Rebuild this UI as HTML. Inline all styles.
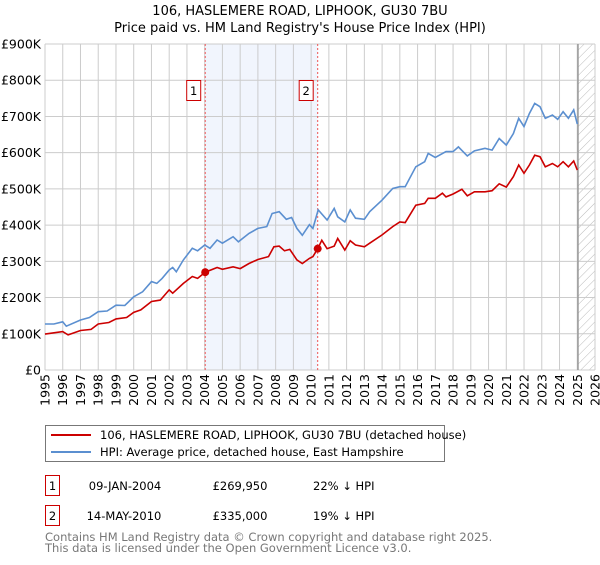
<!DOCTYPE html>
<html><head><meta charset="utf-8"><style>
body{margin:0;background:#fff;font-family:"Liberation Sans","DejaVu Sans",sans-serif;}
svg text{font-family:"DejaVu Sans","Liberation Sans",sans-serif;}
</style></head><body>
<svg id="c" width="600" height="560" viewBox="0 0 600 560" xmlns="http://www.w3.org/2000/svg">
<defs><pattern id="hatch" width="6" height="6" patternUnits="userSpaceOnUse" patternTransform="rotate(45)"><line x1="0" y1="0" x2="0" y2="6" stroke="#bbb" stroke-width="1"/></pattern></defs>
<text x="300" y="15" text-anchor="middle" font-size="13">106, HASLEMERE ROAD, LIPHOOK, GU30 7BU</text>
<text x="300" y="32" text-anchor="middle" font-size="13">Price paid vs. HM Land Registry's House Price Index (HPI)</text>
<g id="plot"></g>
<g>
<rect x="45.5" y="425.5" width="399" height="36" fill="#fff" stroke="#777"/>
<line x1="51" y1="435" x2="91" y2="435" stroke="#cc0000" stroke-width="2"/>
<text x="100" y="439" font-size="11.5">106, HASLEMERE ROAD, LIPHOOK, GU30 7BU (detached house)</text>
<line x1="51" y1="452" x2="91" y2="452" stroke="#5b8fd0" stroke-width="2"/>
<text x="100" y="456" font-size="11.5">HPI: Average price, detached house, East Hampshire</text>
</g>
<g font-size="11.5">
<rect x="45.5" y="475.5" width="14" height="20" fill="#fff" stroke="#cc0000"/>
<text x="52.5" y="490" text-anchor="middle">1</text>
<text x="125" y="490" text-anchor="middle">09-JAN-2004</text>
<text x="240" y="490" text-anchor="middle">£269,950</text>
<text x="313" y="490">22% ↓ HPI</text>
<rect x="45.5" y="505.5" width="14" height="20" fill="#fff" stroke="#cc0000"/>
<text x="52.5" y="520" text-anchor="middle">2</text>
<text x="124" y="520" text-anchor="middle">14-MAY-2010</text>
<text x="240" y="520" text-anchor="middle">£335,000</text>
<text x="313" y="520">19% ↓ HPI</text>
</g>
<text x="45" y="541" font-size="11.5" fill="#777">Contains HM Land Registry data © Crown copyright and database right 2025.</text>
<text x="45" y="552" font-size="11.5" fill="#777">This data is licensed under the Open Government Licence v3.0.</text>
</svg>
<script>
const yTicks=[0,100000,200000,300000,400000,500000,600000,700000,800000,900000];
const yTickLabels=["£0","£100K","£200K","£300K","£400K","£500K","£600K","£700K","£800K","£900K"];
const xYears=[1995,1996,1997,1998,1999,2000,2001,2002,2003,2004,2005,2006,2007,2008,2009,2010,2011,2012,2013,2014,2015,2016,2017,2018,2019,2020,2021,2022,2023,2024,2025,2026];
const hpiT=[1995,1995.5,1996,1996.2,1997,1997.5,1998,1998.5,1999,1999.5,2000,2000.5,2001,2001.3,2001.6,2002,2002.2,2002.4,2002.8,2003.3,2003.6,2004,2004.3,2004.7,2005,2005.6,2005.9,2006.5,2007,2007.5,2007.8,2008.2,2008.6,2008.9,2009.2,2009.5,2009.9,2010.1,2010.4,2010.9,2011.3,2011.5,2011.9,2012.2,2012.5,2013,2013.3,2014,2014.6,2015,2015.3,2015.9,2016.4,2016.6,2017,2017.6,2018,2018.3,2018.8,2019.2,2019.8,2020.2,2020.6,2021,2021.4,2021.7,2022,2022.3,2022.6,2022.9,2023.2,2023.6,2023.9,2024.2,2024.5,2024.8,2025];
const hpiV=[127,127,133,121,138,145,161,163,179,178,202,216,244,239,253,276,283,271,304,336,329,345,336,359,350,368,354,377,391,396,432,437,416,421,391,372,401,391,442,414,446,423,409,442,419,416,437,469,501,506,506,561,575,598,587,603,603,616,591,605,612,607,639,621,653,695,672,708,736,727,695,704,692,713,695,718,679];
const ppT=[1995,1996,1996.3,1997,1997.6,1998,1998.6,1999,1999.6,2000,2000.4,2001,2001.5,2002,2002.2,2002.8,2003.3,2003.6,2004.03,2004.7,2005,2005.6,2006,2006.5,2007,2007.6,2007.9,2008.2,2008.5,2008.8,2009.2,2009.5,2009.9,2010.1,2010.37,2010.6,2010.9,2011.3,2011.5,2011.9,2012.2,2012.5,2013,2013.3,2014,2014.6,2015,2015.3,2015.9,2016.4,2016.6,2017,2017.4,2017.6,2018,2018.5,2018.8,2019.2,2019.8,2020.2,2020.6,2021,2021.4,2021.7,2022,2022.3,2022.6,2022.9,2023.2,2023.6,2023.9,2024.2,2024.5,2024.8,2025];
const ppV=[99,106,97,109,112,127,131,141,145,159,166,189,193,221,212,239,258,253,270,283,278,285,280,294,305,313,340,342,329,333,304,294,308,313,335,358,335,342,363,331,357,345,340,350,373,396,409,407,455,460,474,474,488,478,486,499,481,492,492,495,514,505,534,566,543,566,593,589,561,570,561,575,561,577,552];
const saleT=[2004.03,2010.37];
const saleV=[269.95,335];
const saleLabels=["1","2"];
const X0=45,X1=595,Y0=370,Y1=44;
const xs=t=>X0+(t-1995)/(2026-1995)*(X1-X0);
const ys=v=>Y0-v/900000*(Y0-Y1);
const ysK=v=>ys(v*1000);
const NS="http://www.w3.org/2000/svg";
const g=document.getElementById('plot');
function mk(tag,attrs){const e=document.createElementNS(NS,tag);for(const k in attrs)e.setAttribute(k,attrs[k]);g.appendChild(e);return e;}
let e;
e=mk('rect',{x:xs(saleT[0]),y:Y1,width:xs(saleT[1])-xs(saleT[0]),height:Y0-Y1,fill:'#eef3fc',opacity:0.8});


e=mk('rect',{x:xs(2025.04),y:Y1,width:X1-xs(2025.04),height:Y0-Y1,fill:'url(#hatch)'});


xYears.forEach(yr=>{
 e=mk('line',{x1:xs(yr),x2:xs(yr),y1:Y1,y2:Y0,stroke:'#ccc','stroke-width':1});
 
 
 e=mk('text',{x:0,y:0,'font-size':12.5,'text-anchor':'end',transform:`translate(${xs(yr)+4.5},374) rotate(-90)`});
 e.textContent=yr;
 
 
});
yTicks.forEach((v,i)=>{
 e=mk('line',{x1:X0,x2:X1,y1:ys(v),y2:ys(v),stroke:'#ccc','stroke-width':1});
 
 
 e=mk('text',{x:41,y:ys(v)+4.5,'font-size':12.5,'text-anchor':'end'});
 e.textContent=yTickLabels[i];
 
 
});
e=mk('line',{x1:xs(2025.04),x2:xs(2025.04),y1:Y1,y2:Y0,stroke:'#999','stroke-width':1.5});


saleT.forEach((t,i)=>{
 e=mk('line',{x1:xs(t),x2:xs(t),y1:Y1,y2:Y0,stroke:'#e55','stroke-width':1,'stroke-dasharray':'2,2'});
 
 
 e=mk('rect',{x:xs(t)-18.5,y:80.5,width:14,height:20,fill:'#fff',stroke:'#cc0000'});
 
 
 e=mk('text',{x:xs(t)-11.5,y:95,'font-size':11.5,'text-anchor':'middle'});
 e.textContent=saleLabels[i];
 
 
});
e=mk('path',{d:hpiT.map((t,i)=>(i?'L':'M')+xs(t).toFixed(1)+','+ysK(hpiV[i]).toFixed(1)).join(''),fill:'none',stroke:'#5b8fd0','stroke-width':1.6});


e=mk('path',{d:ppT.map((t,i)=>(i?'L':'M')+xs(t).toFixed(1)+','+ysK(ppV[i]).toFixed(1)).join(''),fill:'none',stroke:'#cc0000','stroke-width':1.6});


saleT.forEach((t,i)=>{
 e=mk('circle',{cx:xs(t),cy:ysK(saleV[i]),r:4,fill:'#cc0000'});
 
 
});
</script>
</body></html>
